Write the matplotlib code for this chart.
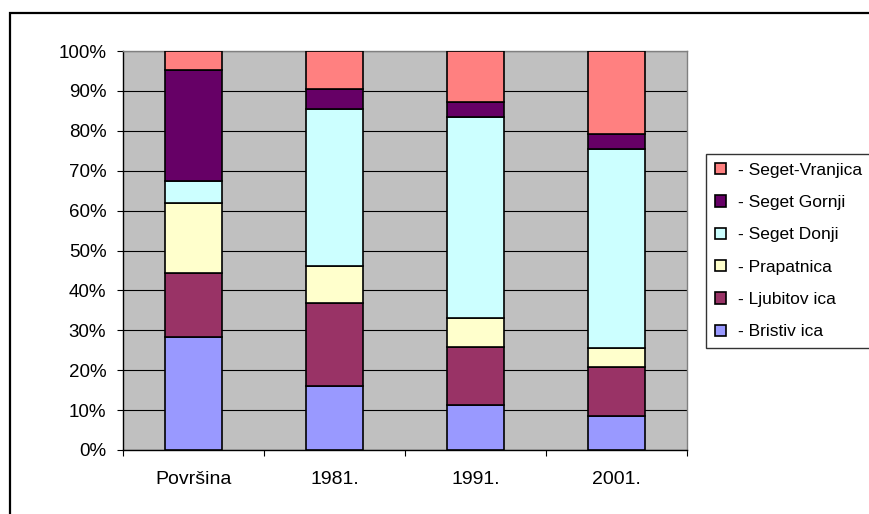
import matplotlib
matplotlib.use("Agg")
import matplotlib.pyplot as plt
import matplotlib.patches as mpatches
from matplotlib.ticker import FixedLocator, FuncFormatter
import numpy as np

plt.rcParams['font.family'] = ['Liberation Sans', 'DejaVu Sans']

categories = ["Površina", "1981.", "1991.", "2001."]
series_names = ["Bristiv ica", "Ljubitov ica", "Prapatnica", "Seget Donji", "Seget Gornji", "Seget-Vranjica"]
bristivica = [28.3, 16.0, 11.3, 8.4]
ljubitovica = [16.1, 20.8, 14.6, 12.3]
prapatnica = [17.4, 9.3, 7.2, 4.8]
seget_donji = [5.6, 39.3, 50.4, 50.0]
seget_gornji = [27.8, 5.2, 3.8, 3.7]
seget_vranjica = [4.8, 9.4, 12.7, 20.8]
colors = ["#9999FF", "#993366", "#FFFFCC", "#CCFFFF", "#660066", "#FF8080"]

W, H = 869, 514
fig = plt.figure(figsize=(W / 100, H / 100), dpi=100)
ax = fig.add_axes([123 / W, 1 - 450 / H, (687 - 123) / W, (450 - 51) / H])
ax.set_facecolor("#C0C0C0")

data = [bristivica, ljubitovica, prapatnica, seget_donji, seget_gornji, seget_vranjica]
x = np.arange(len(categories))
bottom = np.zeros(len(categories))
handles = []
for name, vals, c in zip(series_names, data, colors):
    v = np.array(vals)
    b = ax.bar(x, v, 0.40, bottom=bottom, color=c, edgecolor="black", linewidth=1.2,
               label="- " + name, zorder=3)
    handles.append(b)
    bottom += v

ax.set_xlim(-0.5, len(categories) - 0.5)
ax.set_ylim(0, 100)
ax.set_yticks(np.arange(0, 101, 10))
ax.yaxis.set_major_formatter(FuncFormatter(lambda v, p: f"{int(v)}%"))
ax.grid(axis="y", color="black", linewidth=0.8, zorder=1)
ax.set_axisbelow(True)

ax.xaxis.set_major_locator(FixedLocator(np.arange(-0.5, len(categories), 1.0)))
ax.xaxis.set_major_formatter(FuncFormatter(lambda v, p: ""))
ax.xaxis.set_minor_locator(FixedLocator(x))
ax.set_xticklabels(categories, minor=True)
ax.tick_params(axis="x", which="major", direction="out", length=4, width=0.8, color="black")
ax.tick_params(axis="x", which="minor", length=0, pad=15, labelsize=14)
ax.tick_params(axis="y", direction="out", length=4, width=0.8, pad=8, labelsize=13.5)

for s in ["top", "right"]:
    ax.spines[s].set_color("#808080")
    ax.spines[s].set_linewidth(1.0)
for s in ["left", "bottom"]:
    ax.spines[s].set_color("black")
    ax.spines[s].set_linewidth(1.0)

leg = fig.legend(handles[::-1], ["- " + n for n in series_names[::-1]],
                 loc="upper left", bbox_to_anchor=(706 / W, 1 - 154 / H),
                 fontsize=12.5, frameon=True, fancybox=False, edgecolor="black",
                 handlelength=0.63, handleheight=0.63, handletextpad=0.7,
                 labelspacing=1.0, borderpad=0.5, borderaxespad=0)
leg.get_frame().set_linewidth(1.0)

frame = mpatches.Rectangle((10 / W, -0.1), 2.0, (H - 13) / H + 0.1, transform=fig.transFigure,
                           fill=False, edgecolor="black", linewidth=1.6, clip_on=False)
fig.patches.append(frame)

fig.savefig("out.png", dpi=100, facecolor="white")
